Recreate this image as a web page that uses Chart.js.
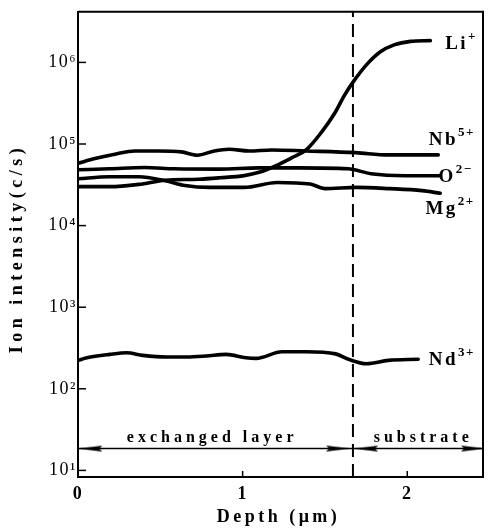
<!DOCTYPE html>
<html lang="en">
<head>
  <meta charset="UTF-8" />
  <title>Ion intensity vs depth</title>
  <script src="https://cdn.jsdelivr.net/npm/chart.js"></script>
  <style>
    html, body { margin: 0; padding: 0; background: #fff; }
    #wrap { width: 490px; height: 529px; }
  </style>
</head>
<body>
<div id="wrap"><canvas id="depthProfile"></canvas></div>

<script>
  // depth in um, intensity in c/s
  const liDepth = [0, 0.19, 0.37, 0.53, 0.73, 0.86, 1.01, 1.1, 1.2, 1.3, 1.384, 1.476, 1.56, 1.62, 1.68, 1.76, 1.837, 1.92, 2.02, 2.14];
  const liIntensity = [30000, 30000, 32000, 36000, 37000, 38500, 41000, 45000, 54000, 68000, 84000, 137000, 240000, 400000, 610000, 973000, 1350000, 1640000, 1810000, 1850000];

  const nbDepth = [0, 0.103, 0.224, 0.344, 0.483, 0.628, 0.725, 0.828, 0.918, 1.039, 1.178, 1.384, 1.686, 1.885, 2.188];
  const nbIntensity = [58000, 66300, 75000, 82200, 82200, 80000, 72900, 82200, 86200, 82200, 84600, 82200, 78300, 73500, 73500];

  const oDepth = [0, 0.193, 0.405, 0.586, 0.858, 1.1, 1.34, 1.64, 1.78, 1.99, 2.2];
  const oIntensity = [48300, 49700, 51500, 49700, 49200, 51000, 51000, 49700, 43200, 40900, 40900];

  const mgDepth = [0, 0.19, 0.37, 0.53, 0.65, 0.8, 1.01, 1.21, 1.41, 1.5, 1.69, 1.89, 2.09, 2.2];
  const mgIntensity = [37500, 39700, 39700, 35500, 31000, 29400, 29400, 33800, 32300, 28400, 29400, 28400, 26800, 24900];

  const ndDepth = [0, 0.054, 0.193, 0.296, 0.393, 0.538, 0.659, 0.779, 0.9, 1.02, 1.082, 1.239, 1.384, 1.565, 1.643, 1.752, 1.885, 2.066];
  const ndIntensity = [223, 240, 264, 276, 257, 245, 245, 252, 264, 240, 236, 284, 284, 268, 230, 203, 223, 230];

  const ionNames = ['Li', 'Nb', 'O', 'Mg', 'Nd'];
  const ionCharges = ['+', '5+', '2\u2212', '2+', '3+'];
  const ionLabelDepth = [2.23, 2.13, 2.19, 2.11, 2.13];
  const ionLabelIntensity = [1.7e6, 112000, 39800, 16000, 225];

  const boundaryDepth = 1.67;
  const regionNames = ['exchanged layer', 'substrate'];
  const regionCenters = [0.815, 2.097];
  const regionLevel = 18.5;
  const arrowDepths = [0.075, 1.58, 1.75, 2.40];
  const arrowPointsLeft = [true, false, true, false];

  const yTicks = [10, 100, 1000, 10000, 100000, 1000000];
  const xTicks = [0, 1, 2];
  const xMax = 2.46;
  const yMin = 8.3, yMax = 4.17e6;
  const xTitle = 'Depth (\u03bcm)';
  const yTitle = 'Ion intensity(c/s)';

  const SERIF = '"Liberation Serif", "DejaVu Serif", serif';
  const SUP = {'1': '\u00b9', '2': '\u00b2', '3': '\u00b3', '4': '\u2074', '5': '\u2075', '6': '\u2076'};

  const pts = (xs, ys) => xs.map((x, i) => ({ x: x, y: ys[i] }));

  // narrow filled arrowhead, tip on the left
  const arrowImg = document.createElement('canvas');
  arrowImg.width = 24; arrowImg.height = 8;
  (function () {
    const c = arrowImg.getContext('2d');
    c.fillStyle = '#000';
    c.beginPath();
    c.moveTo(0, 4); c.lineTo(24, 1); c.lineTo(21, 4); c.lineTo(24, 7);
    c.closePath(); c.fill();
  })();

  const curve = (data) => ({
    data: data, borderColor: '#000', borderWidth: 3.6, pointRadius: 0,
    cubicInterpolationMode: 'monotone', fill: false, borderCapStyle: 'round'
  });

  const decorPlugin = {
    id: 'decor',
    beforeDraw(chart) {
      chart.ctx.letterSpacing = '1.5px';
    },
    afterDatasetsDraw(chart) {
      const ctx = chart.ctx;
      const a = chart.chartArea;
      const xs = chart.scales.x, ys = chart.scales.y;
      ctx.save();
      ctx.strokeStyle = '#000';
      ctx.lineWidth = 2;
      // top and right frame
      ctx.beginPath();
      ctx.moveTo(a.left, a.top); ctx.lineTo(a.right, a.top); ctx.lineTo(a.right, a.bottom);
      ctx.stroke();
      // inward tick marks
      ctx.lineWidth = 1.5;
      yTicks.forEach(v => {
        const py = ys.getPixelForValue(v);
        ctx.beginPath(); ctx.moveTo(a.left, py); ctx.lineTo(a.left + 8, py); ctx.stroke();
      });
      xTicks.slice(1).forEach(v => {
        const px = xs.getPixelForValue(v);
        ctx.beginPath(); ctx.moveTo(px, a.bottom); ctx.lineTo(px, a.bottom - 6); ctx.stroke();
      });

      ctx.fillStyle = '#000';
      ctx.textBaseline = 'middle';
      ctx.textAlign = 'left';
      // ion labels
      ionNames.forEach((name, i) => {
        const px = xs.getPixelForValue(ionLabelDepth[i]);
        const py = ys.getPixelForValue(ionLabelIntensity[i]);
        ctx.letterSpacing = '2.5px';
        ctx.font = 'bold 19px ' + SERIF;
        ctx.fillText(name, px, py);
        const w = ctx.measureText(name).width;
        ctx.letterSpacing = '1.5px';
        ctx.font = 'bold 13px ' + SERIF;
        ctx.fillText(ionCharges[i], px + w, py - 7);
      });
      // region labels
      ctx.textAlign = 'center';
      ctx.letterSpacing = '4px';
      ctx.font = 'bold 16px ' + SERIF;
      regionNames.forEach((t, i) => {
        ctx.fillText(t, xs.getPixelForValue(regionCenters[i]), ys.getPixelForValue(regionLevel) - 11);
      });
      // axis titles
      ctx.letterSpacing = '3.5px';
      ctx.font = 'bold 18px ' + SERIF;
      ctx.fillText(xTitle, (a.left + a.right) / 2 - 2, a.bottom + 40);
      ctx.translate(17, (a.top + a.bottom) / 2 + 4);
      ctx.rotate(-Math.PI / 2);
      ctx.letterSpacing = '4.5px';
      ctx.font = 'bold 18px ' + SERIF;
      ctx.fillText(yTitle, 0, 0);
      ctx.restore();
    }
  };

  new Chart(document.getElementById('depthProfile'), {
    type: 'line',
    data: {
      datasets: [
        curve(pts(liDepth, liIntensity)),
        curve(pts(nbDepth, nbIntensity)),
        curve(pts(oDepth, oIntensity)),
        curve(pts(mgDepth, mgIntensity)),
        curve(pts(ndDepth, ndIntensity)),
        {
          data: [{ x: boundaryDepth, y: yMin }, { x: boundaryDepth, y: yMax }],
          borderColor: '#000', borderWidth: 2, borderDash: [13, 7], pointRadius: 0
        },
        {
          data: [{ x: 0, y: regionLevel }, { x: xMax, y: regionLevel }],
          borderColor: '#000', borderWidth: 1.5, pointRadius: 0
        },
        {
          data: arrowDepths.map(d => ({ x: d, y: regionLevel })),
          showLine: false, pointStyle: arrowImg, pointRadius: 6,
          pointRotation: ctx => (arrowPointsLeft[ctx.dataIndex] ? 0 : 180)
        }
      ]
    },
    options: {
      responsive: true,
      maintainAspectRatio: false,
      animation: false,
      layout: { padding: { top: 8, right: 4, left: 0, bottom: 0 } },
      plugins: { legend: { display: false }, tooltip: { enabled: false } },
      scales: {
        x: {
          type: 'linear', min: 0, max: xMax,
          afterFit: s => { s.height = 52; },
          afterBuildTicks: s => { s.ticks = xTicks.map(v => ({ value: v })); },
          grid: { display: false, drawTicks: false },
          border: { display: true, color: '#000', width: 2 },
          ticks: { color: '#000', padding: 7, font: { family: SERIF, size: 18, weight: 'bold' } }
        },
        y: {
          type: 'logarithmic', min: yMin, max: yMax,
          afterFit: s => { s.width = 78; },
          afterBuildTicks: s => { s.ticks = yTicks.map(v => ({ value: v })); },
          grid: { display: false, drawTicks: false },
          border: { display: true, color: '#000', width: 2 },
          ticks: {
            color: '#000', padding: 1, font: { family: SERIF, size: 18 },
            callback: v => '10' + SUP[String(Math.round(Math.log10(v)))]
          }
        }
      }
    },
    plugins: [decorPlugin]
  });
</script>
</body>
</html>
